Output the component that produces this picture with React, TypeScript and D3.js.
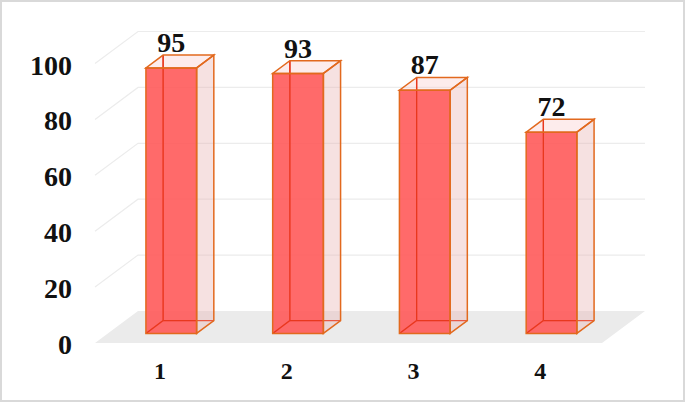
import React from "react";
import * as d3 from "d3";

const categories = ["1", "2", "3", "4"];
const values = [95, 93, 87, 72];
const yTicks = [0, 20, 40, 60, 80, 100];

const W = 685;
const H = 402;
const X0 = 95;
const X1 = 602;
const FRONT_Y0 = 343;
const DX = 43;
const DY = 32;
const D_FRONT = 0.3;
const D_BACK = 0.7;
const FONT = "'Liberation Serif', 'Times New Roman', serif";

export default function App() {
  const x = d3.scaleBand<string>().domain(categories).range([X0, X1]).paddingInner(0.6).paddingOuter(0.3);
  const step = x.step();
  const h = d3.scaleLinear().domain([0, 100]).range([0, 279.5]);
  const yFront = (v: number) => FRONT_Y0 - h(v);
  const pt = (xf: number, d: number, v: number): [number, number] => [xf + d * DX, FRONT_Y0 - d * DY - h(v)];
  const poly = (ps: [number, number][]) => ps.map((p) => p.join(",")).join(" ");
  const line = d3.line();

  const orange = "#E2691E";
  const red = "#E8381E";

  return (
    <div style={{ position: "fixed", left: 0, top: 0 }}>
      <svg width={W} height={H} style={{ display: "block" }}>
        <rect x={0} y={0} width={W} height={H} fill="#fff" />
        {/* gridlines */}
        {yTicks.filter((t) => t > 0).map((t) => {
          const a = pt(X0, 0, t);
          const b = pt(X0, 1, t);
          const c = pt(X1, 1, t);
          return (
            <g key={t}>
              <path d={line([a, b, c]) || ""} fill="none" stroke="#ececec" strokeWidth={1.2} />
            </g>
          );
        })}
        {/* floor */}
        <polygon points={poly([pt(X0, 0, 0), pt(X1, 0, 0), pt(X1, 1, 0), pt(X0, 1, 0)])} fill="#ebebeb" />
        {/* bars */}
        {categories.map((c, i) => {
          const v = values[i];
          const xl = x(c)!;
          const xr = xl + x.bandwidth();
          const fbl = pt(xl, D_FRONT, 0), fbr = pt(xr, D_FRONT, 0);
          const ftl = pt(xl, D_FRONT, v), ftr = pt(xr, D_FRONT, v);
          const bbl = pt(xl, D_BACK, 0), bbr = pt(xr, D_BACK, 0);
          const btl = pt(xl, D_BACK, v), btr = pt(xr, D_BACK, v);
          return (
            <g key={c}>
              {/* right side face */}
              <polygon points={poly([fbr, bbr, btr, ftr])} fill="#E8B4B4" fillOpacity={0.4} />
              {/* top face */}
              <polygon points={poly([ftl, ftr, btr, btl])} fill="#F8C8C8" fillOpacity={0.35} />
              {/* hidden edges */}
              <path d={line([fbl, bbl, btl]) || ""} fill="none" stroke={red} strokeWidth={1.3} />
              <path d={line([bbl, bbr]) || ""} fill="none" stroke={red} strokeWidth={1.1} strokeOpacity={0.8} />
              {/* front face */}
              <polygon points={poly([fbl, fbr, ftr, ftl])} fill="#FF5A5A" fillOpacity={0.9} />
              {/* red back-left edge visible through front */}
              <path d={line([bbl, btl]) || ""} fill="none" stroke={red} strokeWidth={1.3} />
              <path d={line([fbl, bbl]) || ""} fill="none" stroke={red} strokeWidth={1.3} />
              <path d={line([bbl, [fbr[0], bbl[1]]]) || ""} fill="none" stroke={red} strokeWidth={1.2} />
              {/* outline */}
              <polygon points={poly([fbl, fbr, ftr, ftl])} fill="none" stroke={orange} strokeWidth={1.5} />
              <polygon points={poly([ftl, ftr, btr, btl])} fill="none" stroke={orange} strokeWidth={1.5} />
              <polygon points={poly([fbr, bbr, btr, ftr])} fill="none" stroke={orange} strokeWidth={1.5} />
              {/* value label */}
              <text
                x={(xl + xr) / 2 + D_FRONT * DX}
                y={btl[1] - 3}
                textAnchor="middle"
                fontFamily={FONT}
                fontWeight="bold"
                fontSize={28}
                fill="#111"
              >
                {v}
              </text>
              {/* category label */}
              <text
                x={xl + x.bandwidth() / 2 + 1.5}
                y={379}
                textAnchor="middle"
                fontFamily={FONT}
                fontWeight="bold"
                fontSize={24}
                fill="#111"
              >
                {c}
              </text>
            </g>
          );
        })}
        {/* y tick labels */}
        {yTicks.map((t) => (
          <text
            key={t}
            x={72}
            y={yFront(t) + 1.5}
            textAnchor="end"
            dominantBaseline="central"
            fontFamily={FONT}
            fontWeight="bold"
            fontSize={28}
            fill="#111"
          >
            {t}
          </text>
        ))}
        <rect x={1} y={1} width={W - 2} height={H - 2} fill="none" stroke="#d9d9d9" strokeWidth={2} />
      </svg>
    </div>
  );
}
